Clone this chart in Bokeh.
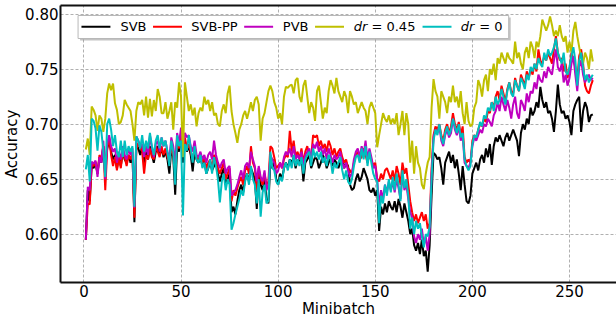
from bokeh.plotting import figure
from bokeh.models import FixedTicker, LinearAxis, CustomJSTickFormatter
from bokeh.core.properties import value
from bokeh.embed import file_html
from bokeh.resources import INLINE

# ---------------- data ----------------
svb = [
    0.595, 0.640, 0.630, 0.662, 0.660, 0.665, 0.655, 0.670, 0.665, 0.680,
    0.660, 0.678, 0.685, 0.675, 0.668, 0.672, 0.660, 0.670, 0.662, 0.675,
    0.668, 0.665, 0.672, 0.665, 0.672, 0.611, 0.682, 0.678, 0.672, 0.680,
    0.665, 0.675, 0.668, 0.680, 0.672, 0.665, 0.675, 0.680, 0.672, 0.678,
    0.670, 0.675, 0.668, 0.655, 0.678, 0.670, 0.636, 0.680, 0.675, 0.690,
    0.665, 0.685, 0.675, 0.680, 0.672, 0.657, 0.675, 0.668, 0.665, 0.670,
    0.662, 0.668, 0.655, 0.660, 0.665, 0.658, 0.662, 0.668, 0.655, 0.648,
    0.655, 0.660, 0.645, 0.650, 0.655, 0.620, 0.625, 0.618, 0.630, 0.640,
    0.645, 0.638, 0.650, 0.655, 0.648, 0.660, 0.655, 0.650, 0.623, 0.655,
    0.645, 0.640, 0.650, 0.632, 0.628, 0.665, 0.660, 0.668, 0.650, 0.645,
    0.655, 0.650, 0.660, 0.665, 0.660, 0.668, 0.665, 0.670, 0.660, 0.668,
    0.665, 0.670, 0.648, 0.665, 0.668, 0.672, 0.660, 0.665, 0.670, 0.668,
    0.660, 0.665, 0.672, 0.668, 0.660, 0.665, 0.670, 0.662, 0.668, 0.665,
    0.660, 0.665, 0.668, 0.660, 0.665, 0.662, 0.645, 0.640, 0.642, 0.650,
    0.655, 0.648, 0.652, 0.660, 0.655, 0.650, 0.640, 0.638, 0.642, 0.635,
    0.640, 0.603, 0.625, 0.618, 0.628, 0.620, 0.630, 0.625, 0.622, 0.630,
    0.620, 0.632, 0.625, 0.615, 0.628, 0.620, 0.612, 0.600, 0.605, 0.590,
    0.585, 0.592, 0.582, 0.595, 0.580, 0.585, 0.566, 0.590, 0.635, 0.674,
    0.672, 0.668, 0.670, 0.660, 0.645, 0.665, 0.670, 0.675, 0.665, 0.672,
    0.660, 0.668, 0.655, 0.640, 0.662, 0.645, 0.630, 0.628, 0.635, 0.655,
    0.660, 0.665, 0.658, 0.668, 0.672, 0.665, 0.678, 0.670, 0.682, 0.663,
    0.680, 0.688, 0.684, 0.690, 0.685, 0.680, 0.688, 0.692, 0.685, 0.690,
    0.695, 0.690, 0.685, 0.671, 0.692, 0.700, 0.695, 0.705, 0.700, 0.715,
    0.708, 0.712, 0.720, 0.715, 0.734, 0.722, 0.715, 0.720, 0.710, 0.712,
    0.705, 0.693, 0.712, 0.736, 0.718, 0.710, 0.712, 0.705, 0.708, 0.702,
    0.690, 0.712, 0.718, 0.722, 0.725, 0.693, 0.712, 0.720, 0.715, 0.702,
    0.708, 0.709,
]

svb_pp = [
    0.595, 0.628, 0.627, 0.664, 0.662, 0.666, 0.655, 0.672, 0.668, 0.680,
    0.640, 0.678, 0.688, 0.672, 0.662, 0.670, 0.658, 0.670, 0.660, 0.675,
    0.670, 0.662, 0.672, 0.668, 0.675, 0.615, 0.677, 0.683, 0.680, 0.675,
    0.655, 0.672, 0.668, 0.678, 0.670, 0.668, 0.680, 0.675, 0.670, 0.680,
    0.672, 0.678, 0.670, 0.665, 0.680, 0.672, 0.660, 0.685, 0.678, 0.692,
    0.672, 0.688, 0.678, 0.682, 0.675, 0.668, 0.678, 0.670, 0.668, 0.672,
    0.665, 0.670, 0.660, 0.665, 0.668, 0.660, 0.672, 0.668, 0.660, 0.655,
    0.660, 0.665, 0.650, 0.655, 0.660, 0.630, 0.640, 0.635, 0.642, 0.648,
    0.652, 0.645, 0.658, 0.662, 0.655, 0.680, 0.665, 0.660, 0.640, 0.660,
    0.650, 0.645, 0.655, 0.645, 0.648, 0.680, 0.678, 0.670, 0.660, 0.662,
    0.665, 0.660, 0.668, 0.672, 0.670, 0.694, 0.675, 0.685, 0.670, 0.675,
    0.668, 0.678, 0.665, 0.675, 0.680, 0.672, 0.670, 0.690, 0.688, 0.690,
    0.680, 0.685, 0.678, 0.682, 0.675, 0.685, 0.680, 0.672, 0.678, 0.670,
    0.675, 0.678, 0.670, 0.665, 0.668, 0.660, 0.658, 0.655, 0.665, 0.672,
    0.675, 0.668, 0.670, 0.678, 0.672, 0.665, 0.673, 0.668, 0.662, 0.665,
    0.650, 0.648, 0.655, 0.650, 0.658, 0.660, 0.655, 0.650, 0.658, 0.648,
    0.662, 0.655, 0.645, 0.665, 0.655, 0.660, 0.645, 0.630, 0.620, 0.612,
    0.618, 0.610, 0.615, 0.620, 0.612, 0.618, 0.605, 0.610, 0.660, 0.690,
    0.698, 0.695, 0.700, 0.690, 0.685, 0.695, 0.700, 0.692, 0.698, 0.710,
    0.700, 0.695, 0.702, 0.690, 0.698, 0.670, 0.665, 0.668, 0.665, 0.685,
    0.690, 0.688, 0.695, 0.700, 0.698, 0.705, 0.702, 0.712, 0.710, 0.720,
    0.715, 0.725, 0.730, 0.722, 0.735, 0.728, 0.720, 0.732, 0.738, 0.730,
    0.728, 0.742, 0.735, 0.730, 0.745, 0.740, 0.735, 0.748, 0.742, 0.750,
    0.745, 0.755, 0.748, 0.768, 0.758, 0.755, 0.762, 0.758, 0.765, 0.760,
    0.755, 0.768, 0.780, 0.765, 0.758, 0.760, 0.748, 0.755, 0.742, 0.750,
    0.765, 0.758, 0.752, 0.740, 0.762, 0.768, 0.755, 0.735, 0.730, 0.728,
    0.735, 0.740,
]

pvb = [
    0.595, 0.643, 0.640, 0.666, 0.664, 0.667, 0.652, 0.670, 0.665, 0.685,
    0.650, 0.682, 0.690, 0.680, 0.675, 0.678, 0.665, 0.675, 0.668, 0.680,
    0.672, 0.668, 0.678, 0.672, 0.678, 0.624, 0.689, 0.685, 0.680, 0.682,
    0.670, 0.680, 0.672, 0.690, 0.678, 0.670, 0.682, 0.685, 0.675, 0.688,
    0.680, 0.685, 0.675, 0.668, 0.688, 0.680, 0.665, 0.692, 0.682, 0.697,
    0.680, 0.692, 0.688, 0.690, 0.680, 0.675, 0.685, 0.672, 0.670, 0.675,
    0.668, 0.672, 0.665, 0.672, 0.675, 0.668, 0.685, 0.672, 0.665, 0.660,
    0.665, 0.668, 0.655, 0.660, 0.662, 0.635, 0.638, 0.640, 0.645, 0.652,
    0.658, 0.650, 0.662, 0.665, 0.660, 0.675, 0.668, 0.662, 0.648, 0.662,
    0.652, 0.648, 0.658, 0.640, 0.645, 0.672, 0.668, 0.665, 0.655, 0.658,
    0.665, 0.660, 0.670, 0.675, 0.672, 0.678, 0.670, 0.680, 0.668, 0.672,
    0.668, 0.675, 0.662, 0.672, 0.675, 0.678, 0.668, 0.682, 0.678, 0.684,
    0.675, 0.680, 0.672, 0.678, 0.668, 0.678, 0.672, 0.665, 0.672, 0.668,
    0.670, 0.675, 0.665, 0.660, 0.665, 0.658, 0.652, 0.655, 0.668, 0.675,
    0.678, 0.670, 0.680, 0.672, 0.685, 0.668, 0.678, 0.670, 0.660, 0.662,
    0.650, 0.625, 0.640, 0.632, 0.645, 0.638, 0.648, 0.640, 0.648, 0.638,
    0.650, 0.642, 0.632, 0.655, 0.640, 0.645, 0.632, 0.620, 0.615, 0.598,
    0.592, 0.600, 0.595, 0.605, 0.590, 0.598, 0.585, 0.600, 0.655, 0.688,
    0.695, 0.692, 0.698, 0.685, 0.680, 0.690, 0.695, 0.688, 0.692, 0.705,
    0.695, 0.690, 0.698, 0.685, 0.690, 0.665, 0.662, 0.660, 0.665, 0.680,
    0.688, 0.685, 0.690, 0.695, 0.692, 0.700, 0.698, 0.705, 0.702, 0.698,
    0.708, 0.712, 0.720, 0.712, 0.725, 0.718, 0.712, 0.722, 0.715, 0.705,
    0.718, 0.725, 0.710, 0.705, 0.722, 0.718, 0.712, 0.728, 0.720, 0.730,
    0.728, 0.738, 0.732, 0.745, 0.740, 0.738, 0.748, 0.742, 0.752, 0.748,
    0.745, 0.758, 0.768, 0.752, 0.748, 0.755, 0.738, 0.745, 0.735, 0.742,
    0.755, 0.762, 0.745, 0.730, 0.752, 0.758, 0.745, 0.738, 0.742, 0.745,
    0.740, 0.742,
]

dr045 = [
    0.677, 0.687, 0.672, 0.716, 0.713, 0.708, 0.694, 0.708, 0.705, 0.693,
    0.705, 0.728, 0.737, 0.731, 0.737, 0.719, 0.713, 0.700, 0.702, 0.708,
    0.722, 0.718, 0.715, 0.712, 0.700, 0.685, 0.712, 0.720, 0.718, 0.722,
    0.708, 0.725, 0.706, 0.723, 0.707, 0.722, 0.712, 0.732, 0.725, 0.710,
    0.710, 0.720, 0.705, 0.712, 0.720, 0.695, 0.720, 0.715, 0.738, 0.725,
    0.670, 0.738, 0.725, 0.712, 0.718, 0.708, 0.715, 0.698, 0.710, 0.715,
    0.712, 0.725, 0.718, 0.722, 0.712, 0.720, 0.708, 0.710, 0.700, 0.698,
    0.712, 0.718, 0.710, 0.728, 0.735, 0.712, 0.700, 0.692, 0.683, 0.695,
    0.700, 0.708, 0.712, 0.705, 0.712, 0.720, 0.712, 0.722, 0.725, 0.718,
    0.685, 0.705, 0.710, 0.720, 0.730, 0.735, 0.730, 0.720, 0.715, 0.705,
    0.710, 0.700, 0.725, 0.734, 0.733, 0.735, 0.736, 0.728, 0.740, 0.742,
    0.725, 0.720, 0.735, 0.740, 0.725, 0.710, 0.720, 0.715, 0.703, 0.730,
    0.735, 0.720, 0.705, 0.715, 0.710, 0.730, 0.740, 0.735, 0.728, 0.742,
    0.730, 0.725, 0.720, 0.730, 0.725, 0.710, 0.730, 0.725, 0.718, 0.720,
    0.710, 0.715, 0.720, 0.715, 0.712, 0.700, 0.715, 0.720, 0.715, 0.710,
    0.679, 0.690, 0.700, 0.710, 0.705, 0.702, 0.708, 0.700, 0.705, 0.700,
    0.710, 0.690, 0.700, 0.712, 0.690, 0.710, 0.700, 0.665, 0.685, 0.655,
    0.680, 0.665, 0.660, 0.645, 0.641, 0.655, 0.665, 0.670, 0.715, 0.741,
    0.730, 0.725, 0.705, 0.730, 0.725, 0.720, 0.710, 0.725, 0.720, 0.735,
    0.720, 0.725, 0.715, 0.730, 0.710, 0.700, 0.720, 0.703, 0.698, 0.700,
    0.715, 0.720, 0.740, 0.735, 0.725, 0.740, 0.745, 0.730, 0.750, 0.745,
    0.755, 0.740, 0.760, 0.755, 0.765, 0.760, 0.755, 0.765, 0.760, 0.758,
    0.755, 0.775, 0.760, 0.765, 0.755, 0.750, 0.765, 0.770, 0.760, 0.775,
    0.770, 0.760, 0.775, 0.770, 0.780, 0.795, 0.790, 0.785, 0.790, 0.798,
    0.790, 0.780, 0.785, 0.780, 0.790, 0.780, 0.775, 0.780, 0.765, 0.775,
    0.765, 0.785, 0.793, 0.780, 0.770, 0.760, 0.755, 0.765, 0.760, 0.750,
    0.768, 0.757,
]

dr0 = [
    0.659, 0.672, 0.648, 0.705, 0.703, 0.696, 0.676, 0.699, 0.693, 0.676,
    0.652, 0.700, 0.705, 0.695, 0.680, 0.690, 0.675, 0.670, 0.685, 0.670,
    0.685, 0.672, 0.680, 0.675, 0.680, 0.625, 0.689, 0.685, 0.678, 0.690,
    0.675, 0.685, 0.678, 0.692, 0.680, 0.672, 0.685, 0.690, 0.678, 0.688,
    0.680, 0.685, 0.675, 0.662, 0.685, 0.675, 0.645, 0.690, 0.680, 0.685,
    0.617, 0.682, 0.676, 0.690, 0.678, 0.665, 0.680, 0.668, 0.665, 0.672,
    0.660, 0.665, 0.655, 0.660, 0.668, 0.655, 0.670, 0.662, 0.650, 0.629,
    0.648, 0.655, 0.640, 0.650, 0.645, 0.604, 0.610, 0.618, 0.625, 0.632,
    0.640, 0.635, 0.648, 0.655, 0.645, 0.662, 0.650, 0.645, 0.628, 0.650,
    0.616, 0.638, 0.645, 0.628, 0.630, 0.675, 0.660, 0.658, 0.648, 0.645,
    0.652, 0.648, 0.660, 0.665, 0.658, 0.668, 0.660, 0.672, 0.662, 0.668,
    0.662, 0.670, 0.655, 0.668, 0.672, 0.675, 0.662, 0.678, 0.670, 0.675,
    0.668, 0.675, 0.665, 0.670, 0.662, 0.672, 0.668, 0.655, 0.665, 0.660,
    0.665, 0.670, 0.658, 0.650, 0.658, 0.648, 0.645, 0.650, 0.662, 0.670,
    0.672, 0.665, 0.678, 0.668, 0.680, 0.662, 0.675, 0.665, 0.655, 0.650,
    0.648, 0.610, 0.635, 0.628, 0.645, 0.635, 0.650, 0.638, 0.652, 0.640,
    0.655, 0.645, 0.630, 0.658, 0.642, 0.650, 0.635, 0.605, 0.615, 0.600,
    0.612, 0.605, 0.610, 0.598, 0.588, 0.600, 0.598, 0.607, 0.650, 0.685,
    0.695, 0.690, 0.700, 0.688, 0.682, 0.692, 0.698, 0.690, 0.695, 0.705,
    0.698, 0.692, 0.700, 0.688, 0.692, 0.668, 0.662, 0.658, 0.662, 0.682,
    0.690, 0.688, 0.695, 0.702, 0.698, 0.708, 0.705, 0.715, 0.712, 0.720,
    0.712, 0.725, 0.718, 0.722, 0.732, 0.725, 0.718, 0.730, 0.738, 0.728,
    0.725, 0.740, 0.735, 0.730, 0.742, 0.738, 0.732, 0.745, 0.740, 0.752,
    0.748, 0.755, 0.750, 0.760, 0.755, 0.752, 0.765, 0.758, 0.768, 0.762,
    0.765, 0.770, 0.778, 0.765, 0.760, 0.755, 0.765, 0.748, 0.745, 0.752,
    0.762, 0.770, 0.758, 0.735, 0.758, 0.765, 0.752, 0.740, 0.745, 0.738,
    0.742, 0.745,
]

series_names = ["SVB", "SVB-PP", "PVB", "dr = 0.45", "dr = 0"]
series_values = [svb, svb_pp, pvb, dr045, dr0]
series_colors = ["#000000", "#ff0000", "#bf00bf", "#bfbf00", "#00bfbf"]
x_ticks = [0, 50, 100, 150, 200, 250]
y_ticks = [0.60, 0.65, 0.70, 0.75, 0.80]

# ---------------- layout ----------------
W, H = 616, 320
FL, FT, FB = 59, 5, 38
FW, FH = W - FL, H - FT - FB
X0, X1 = -12.05, 274.2
Y0, Y1 = 0.5561, 0.8079


def dx(px):
    return X0 + (px - FL) / FW * (X1 - X0)


def dy(py):
    return Y1 - (py - FT) / FH * (Y1 - Y0)


FONT = "DejaVu Sans"

p = figure(width=W, height=H, x_range=(X0, X1), y_range=(Y0, Y1),
           output_backend="svg", toolbar_location=None,
           min_border_left=FL, min_border_right=0, min_border_top=FT,
           min_border_bottom=FB)
p.outline_line_color = None
p.background_fill_color = "white"
p.border_fill_color = "white"

for ax in (p.xaxis[0], p.yaxis[0]):
    ax.axis_line_color = "#111111"
    ax.axis_line_width = 2
    ax.major_tick_in = 0
    ax.major_tick_out = 0
    ax.minor_tick_line_color = None
    ax.major_label_text_font = FONT
    ax.major_label_text_font_size = "15px"
    ax.major_label_text_color = "#000000"
    ax.axis_label_text_font = FONT
    ax.axis_label_text_font_size = "15px"
    ax.axis_label_text_font_style = "normal"
    ax.axis_label_text_color = "#000000"

p.xaxis[0].ticker = FixedTicker(ticks=x_ticks)
p.yaxis[0].ticker = FixedTicker(ticks=y_ticks)
p.yaxis[0].formatter = CustomJSTickFormatter(code="return tick.toFixed(2);")
p.xaxis[0].axis_label = "Minibatch"
p.yaxis[0].axis_label = "Accuracy"
p.xaxis[0].major_label_standoff = 2
p.xaxis[0].axis_label_standoff = 0
p.yaxis[0].major_label_standoff = 2
p.yaxis[0].axis_label_standoff = 1

top = LinearAxis(ticker=FixedTicker(ticks=[]), axis_line_color="#111111",
                 axis_line_width=2, major_tick_in=0, major_tick_out=0,
                 minor_tick_line_color=None, major_label_text_font_size="0px")
p.add_layout(top, "above")

for g in (p.xgrid[0], p.ygrid[0]):
    g.grid_line_color = "#b0b0b0"
    g.grid_line_dash = "3 2"
    g.grid_line_width = 1
p.xgrid[0].ticker = FixedTicker(ticks=x_ticks)
p.ygrid[0].ticker = FixedTicker(ticks=y_ticks)

for vals, col in zip(series_values, series_colors):
    xs = list(range(1, len(vals) + 1))
    p.line(xs, vals, line_color=col, line_width=2)

# ---------------- legend (hand-built to allow italic "dr") ----------------
LB_L, LB_R, LB_T, LB_B = 76.6, 508, 15, 38
p.quad(left=[dx(LB_L + 2)], right=[dx(LB_R + 2)], top=[dy(LB_T + 2)],
       bottom=[dy(LB_B + 2)], fill_color="#888888", fill_alpha=0.5,
       line_color=None)
p.quad(left=[dx(LB_L)], right=[dx(LB_R)], top=[dy(LB_T)], bottom=[dy(LB_B)],
       fill_color="white", fill_alpha=1.0, line_color="#b8b8b8", line_width=1)

ly = dy(26.2)
line_starts = [80, 151.7, 243, 314, 421.7]
line_len = 29
p.segment(x0=[dx(s) for s in line_starts], y0=[ly] * 5,
          x1=[dx(s + line_len) for s in line_starts], y1=[ly] * 5,
          line_color=series_colors, line_width=2)

plain_x = [119, 190, 281.7, 370.5, 478.5]
plain_t = ["SVB", "SVB-PP", "PVB", "= 0.45", "= 0"]
p.text(x=[dx(v) for v in plain_x], y=[ly] * 5, text=plain_t,
       text_font=value(FONT), text_font_size="13px", text_color="#000000",
       text_baseline="middle", text_align="left")
p.text(x=[dx(352.7), dx(460)], y=[ly] * 2, text=["dr", "dr"],
       text_font=value(FONT), text_font_size="13px", text_color="#000000",
       text_font_style="italic", text_baseline="middle", text_align="left")

open("out.html", "w").write(file_html(p, INLINE))
